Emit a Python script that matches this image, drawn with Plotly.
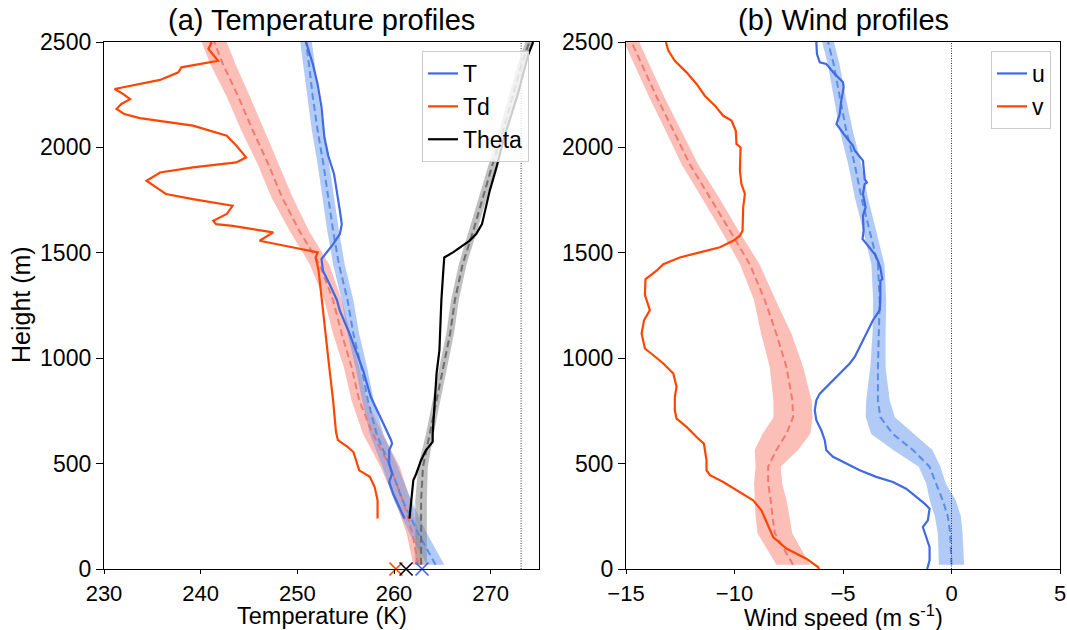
import plotly.graph_objects as go

# ---------------- data: temperature panel ----------------
H_MEAN = [20, 170, 325, 485, 640, 800, 960, 1115, 1275, 1445, 1605, 1765, 1920, 2080, 2240, 2395, 2500]
T_MEAN = [264.3, 262.5, 260.9, 259.6, 258.2, 257.3, 256.6, 255.8, 255.2, 254.3, 253.7, 253.2, 252.7, 252.1, 251.6, 251.2, 250.9]
T_SPREAD = [0.9, 0.9, 0.9, 0.8, 0.7, 0.6, 0.6, 0.6, 0.6, 0.6, 0.6, 0.6, 0.6, 0.6, 0.6, 0.6, 0.6]
TD_MEAN = [262.5, 261.9, 260.9, 259.6, 257.8, 256.4, 255.6, 254.6, 253.7, 252.3, 250.2, 248.4, 247.0, 245.4, 243.9, 242.3, 241.4]
TD_SPREAD = [0.5, 0.6, 0.8, 1.0, 1.0, 0.8, 0.8, 0.9, 0.9, 1.0, 1.0, 1.1, 1.1, 1.2, 1.2, 1.3, 1.3]
TH_MEAN = [262.8, 262.8, 262.8, 263.0, 263.7, 264.4, 265.1, 265.8, 266.3, 267.1, 268.2, 269.2, 270.2, 271.3, 272.3, 273.2, 274.0]
TH_SPREAD = [0.6, 0.6, 0.6, 0.5, 0.4, 0.4, 0.4, 0.4, 0.4, 0.4, 0.4, 0.4, 0.4, 0.4, 0.4, 0.4, 0.4]

T_OBS_H = [239, 300, 358, 413, 452, 500, 563, 595, 611, 700, 816, 943, 1030, 1117, 1225, 1275, 1345,
           1415, 1470, 1500, 1541, 1589, 1636, 1700, 1763, 1873, 1960, 2048, 2190, 2300, 2396, 2500]
T_OBS = [261.1, 260.5, 259.9, 259.5, 259.8, 259.5, 259.5, 259.8, 259.7, 258.8, 257.6, 256.8, 256.1, 255.4, 254.4, 254.1, 253.4,
         252.65, 252.5, 253.0, 253.7, 254.4, 254.6, 254.4, 254.2, 253.8, 253.2, 252.8, 252.5, 252.1, 251.6, 250.9]

TD_OBS_H = [239, 326, 389, 437, 468, 516, 555, 579, 611, 650, 800, 959, 1085, 1225, 1415, 1478, 1502,
            1525, 1557, 1597, 1628, 1636, 1652, 1684, 1723, 1755, 1779, 1810, 1842, 1881, 1905, 1929,
            1953, 2008, 2055, 2103, 2139, 2158, 2182, 2206, 2229, 2253, 2277, 2320, 2356, 2380, 2411,
            2467, 2494, 2500]
TD_OBS = [258.3, 258.3, 258.0, 257.5, 256.4, 256.1, 255.8, 255.2, 254.2, 254.0, 253.7, 253.3, 253.0, 252.7, 252.2, 251.9, 252.1,
          249.6, 246.1, 247.5, 243.3, 241.6, 241.3, 242.7, 243.3, 239.2, 236.4, 235.4, 234.4, 235.8, 239.2, 243.7,
          244.7, 243.7, 242.7, 239.2, 233.7, 232.1, 231.3, 231.8, 232.7, 232.0, 231.1, 235.8, 237.7, 238.0, 241.8,
          240.8, 241.1, 241.0]

TH_OBS_H = [239, 326, 421, 452, 516, 563, 603, 642, 800, 927, 1038, 1275, 1415, 1478, 1502, 1518,
            1557, 1589, 1636, 1794, 1905, 2048, 2250, 2443, 2500]
TH_OBS = [261.6, 261.8, 262.0, 262.3, 262.8, 263.3, 264.0, 264.0, 264.2, 264.4, 264.7, 264.9, 265.1, 265.2, 266.1, 266.6,
          267.8, 268.5, 269.1, 269.9, 270.6, 271.4, 272.8, 273.9, 274.4]

SURFACE_T = [260.2, 261.25, 262.9]   # Td, Theta, T surface markers
SURFACE_COLORS = ["orangered", "black", "royalblue"]

# ---------------- data: wind panel ----------------
HW_MEAN = [20, 170, 250, 325, 405, 485, 565, 640, 720, 800, 960, 1115, 1275, 1445, 1605, 1765, 1920, 2080, 2240, 2395, 2500]
U_MEAN = [0.0, -0.06, -0.17, -0.40, -0.71, -1.01, -1.78, -2.70, -3.28, -3.39, -3.39, -3.34, -3.31, -3.39, -3.77, -4.16, -4.46, -4.85, -5.15, -5.43, -5.69]
U_SPREAD = [0.58, 0.57, 0.6, 0.6, 0.45, 0.5, 0.9, 1.0, 0.67, 0.54, 0.35, 0.3, 0.3, 0.3, 0.3, 0.3, 0.3, 0.3, 0.27, 0.27, 0.27]
V_MEAN = [-7.3, -8.14, -8.25, -8.33, -8.45, -8.45, -8.07, -7.61, -7.30, -7.33, -7.61, -8.07, -8.6, -9.29, -10.21, -11.13, -12.06, -12.82, -13.59, -14.28, -14.74]
V_SPREAD = [0.77, 0.8, 0.78, 0.73, 0.65, 0.58, 1.0, 1.1, 0.9, 0.88, 0.77, 0.7, 0.5, 0.45, 0.4, 0.4, 0.38, 0.36, 0.35, 0.35, 0.35]

U_OBS_H = [0, 41, 104, 168, 199, 231, 286, 310, 342, 381, 413, 437, 468, 500, 532, 563, 611, 658, 706, 753,
           800, 832, 864, 911, 943, 975, 1006, 1070, 1117, 1180, 1228, 1275, 1367, 1375, 1430, 1462, 1494,
           1526, 1566, 1605, 1676, 1715, 1779, 1826, 1834, 1850, 1889, 1937, 1985, 2008, 2048, 2095, 2111,
           2158, 2222, 2285, 2309, 2348, 2396, 2404, 2443, 2500]
U_OBS = [-1.12, -1.01, -1.01, -1.24, -1.32, -1.09, -1.01, -1.24, -1.63, -2.09, -2.70, -3.47, -4.23, -4.85, -5.46, -5.77, -5.84, -6.0, -6.23, -6.3,
         -6.23, -6.07, -5.77, -5.31, -5.0, -4.69, -4.46, -4.16, -3.93, -3.62, -3.31, -3.28, -3.28, -3.19, -3.28, -3.39, -3.54,
         -3.77, -4.1, -4.05, -4.08, -3.96, -4.08, -4.0, -3.9, -4.0, -4.05, -4.08, -4.46, -4.54, -4.85, -5.18, -5.3,
         -5.15, -5.08, -4.97, -5.0, -5.38, -5.77, -6.07, -6.2, -6.23]

V_OBS_H = [0, 9, 49, 97, 152, 223, 278, 326, 373, 413, 445, 468, 516, 595, 626, 674, 713, 753, 816, 864,
           927, 975, 1014, 1046, 1117, 1180, 1228, 1260, 1300, 1375, 1415, 1446, 1478, 1502, 1526, 1557,
           1581, 1605, 1715, 1779, 1826, 1889, 2000, 2016, 2079, 2127, 2150, 2198, 2245, 2301, 2356, 2411,
           2459, 2500]
V_OBS = [-6.1, -6.15, -6.69, -7.61, -8.22, -8.53, -8.76, -9.14, -9.91, -10.52, -11.13, -11.29, -11.29, -11.41, -11.75, -12.21, -12.67, -12.75, -12.75, -12.67,
         -12.82, -13.28, -13.74, -14.13, -14.28, -14.17, -13.9, -14.0, -14.13, -14.1, -13.59, -13.28, -12.52, -11.6, -10.67, -10.06,
         -9.75, -9.63, -9.6, -9.52, -9.68, -9.75, -9.72, -9.91, -9.94, -10.14, -10.52, -10.9, -11.37, -11.75, -12.21, -12.75,
         -13.05, -13.16]

FONT = "Liberation Sans, Arial, Helvetica, sans-serif"

fig = go.Figure()


def band(mean, spread, h, color, xa, ya):
    lo = [m - s for m, s in zip(mean, spread)]
    hi = [m + s for m, s in zip(mean, spread)]
    fig.add_trace(go.Scatter(x=hi + lo[::-1], y=h + h[::-1], fill="toself", fillcolor=color,
                             line=dict(width=0), mode="lines", showlegend=False, hoverinfo="skip",
                             xaxis=xa, yaxis=ya))


def dashed(mean, h, color, xa, ya):
    fig.add_trace(go.Scatter(x=mean, y=h, mode="lines", line=dict(color=color, width=2, dash="7px,4px"),
                             showlegend=False, xaxis=xa, yaxis=ya))


# temperature bands
band(TD_MEAN, TD_SPREAD, H_MEAN, "rgba(250,128,114,0.5)", "x", "y")
band(T_MEAN, T_SPREAD, H_MEAN, "rgba(100,149,237,0.5)", "x", "y")
band(TH_MEAN, TH_SPREAD, H_MEAN, "rgba(128,128,128,0.5)", "x", "y")
dashed(TD_MEAN, H_MEAN, "rgba(240,110,100,0.85)", "x", "y")
dashed(T_MEAN, H_MEAN, "rgba(80,135,230,0.9)", "x", "y")
dashed(TH_MEAN, H_MEAN, "rgba(100,100,100,0.9)", "x", "y")

fig.add_trace(go.Scatter(x=T_OBS, y=T_OBS_H, mode="lines", name="T", line=dict(color="royalblue", width=2.2),
                         legend="legend", xaxis="x", yaxis="y"))
fig.add_trace(go.Scatter(x=TD_OBS, y=TD_OBS_H, mode="lines", name="Td", line=dict(color="orangered", width=2.2),
                         legend="legend", xaxis="x", yaxis="y"))
fig.add_trace(go.Scatter(x=TH_OBS, y=TH_OBS_H, mode="lines", name="Theta", line=dict(color="black", width=2.2),
                         legend="legend", xaxis="x", yaxis="y"))

for xv, c in zip(SURFACE_T, SURFACE_COLORS):
    fig.add_trace(go.Scatter(x=[xv], y=[0], mode="markers", showlegend=False, cliponaxis=False,
                             marker=dict(symbol="x-thin", size=13, line=dict(color=c, width=1.6)),
                             xaxis="x", yaxis="y"))

# wind bands
band(V_MEAN, V_SPREAD, HW_MEAN, "rgba(250,128,114,0.5)", "x2", "y2")
band(U_MEAN, U_SPREAD, HW_MEAN, "rgba(100,149,237,0.5)", "x2", "y2")
dashed(V_MEAN, HW_MEAN, "rgba(240,110,100,0.85)", "x2", "y2")
dashed(U_MEAN, HW_MEAN, "rgba(80,135,230,0.9)", "x2", "y2")

fig.add_trace(go.Scatter(x=U_OBS, y=U_OBS_H, mode="lines", name="u", line=dict(color="royalblue", width=2.2),
                         legend="legend2", xaxis="x2", yaxis="y2"))
fig.add_trace(go.Scatter(x=V_OBS, y=V_OBS_H, mode="lines", name="v", line=dict(color="orangered", width=2.2),
                         legend="legend2", xaxis="x2", yaxis="y2"))

# reference lines
fig.add_shape(type="line", xref="x", yref="y domain", x0=273.15, x1=273.15, y0=0, y1=1,
              line=dict(color="#333333", width=1, dash="1px,1.5px"))
fig.add_shape(type="line", xref="x2", yref="y2 domain", x0=0, x1=0, y0=0, y1=1,
              line=dict(color="#333333", width=1, dash="1px,1.5px"))

W, Hpx = 1067, 630
YDOM = [(Hpx - 569) / Hpx, (Hpx - 42) / Hpx]
axis_common = dict(showline=True, linecolor="black", linewidth=1.3, mirror=True, ticks="outside",
                   tickwidth=1.3, tickcolor="black", showgrid=False, zeroline=False,
                   automargin=False)
yfont = dict(family=FONT, size=23, color="black")
xfont = dict(family=FONT, size=22, color="black")

fig.update_layout(
    width=W, height=Hpx, margin=dict(l=0, r=0, t=0, b=0, autoexpand=False),
    plot_bgcolor="white", paper_bgcolor="white",
    font=dict(family=FONT, color="black"),
    xaxis=dict(domain=[104 / W, 539 / W], range=[230, 275], tickvals=[230, 240, 250, 260, 270],
               anchor="y", ticklen=4, tickfont=xfont, **axis_common),
    yaxis=dict(domain=YDOM, range=[0, 2500], tickvals=[0, 500, 1000, 1500, 2000, 2500],
               anchor="x", ticklen=7, tickfont=yfont, **axis_common),
    xaxis2=dict(domain=[626 / W, 1060 / W], range=[-15, 5], tickvals=[-15, -10, -5, 0, 5],
                anchor="y2", ticklen=4, tickfont=xfont, **axis_common),
    yaxis2=dict(domain=YDOM, range=[0, 2500], tickvals=[0, 500, 1000, 1500, 2000, 2500],
                anchor="x2", ticklen=7, tickfont=yfont, **axis_common),
    legend=dict(x=529 / W, y=1 - 51 / Hpx, xanchor="right", yanchor="top",
                bgcolor="rgba(255,255,255,0.8)", bordercolor="#cccccc", borderwidth=1,
                font=dict(family=FONT, size=23, color="black"), tracegroupgap=0),
    legend2=dict(x=1051 / W, y=1 - 51 / Hpx, xanchor="right", yanchor="top",
                 bgcolor="rgba(255,255,255,0.8)", bordercolor="#cccccc", borderwidth=1,
                 font=dict(family=FONT, size=23, color="black"), tracegroupgap=0),
    showlegend=True,
)

ann = [
    dict(text="(a) Temperature profiles", x=321.5 / W, y=1 - 20 / Hpx, size=29),
    dict(text="(b) Wind profiles", x=843 / W, y=1 - 20 / Hpx, size=29),
    dict(text="Temperature (K)", x=321.5 / W, y=1 - 615.5 / Hpx, size=23.5),
    dict(text="Wind speed (m s<sup>-1</sup>)", x=843 / W, y=1 - 615.5 / Hpx, size=23.5),
]
for a in ann:
    fig.add_annotation(text=a["text"], x=a["x"], y=a["y"], xref="paper", yref="paper",
                       xanchor="center", yanchor="middle", showarrow=False,
                       font=dict(family=FONT, size=a["size"], color="black"))
fig.add_annotation(text="Height (m)", x=21 / W, y=1 - 305 / Hpx, xref="paper", yref="paper",
                   xanchor="center", yanchor="middle", showarrow=False, textangle=-90,
                   font=dict(family=FONT, size=25, color="black"))

fig.write_html("out.html")
